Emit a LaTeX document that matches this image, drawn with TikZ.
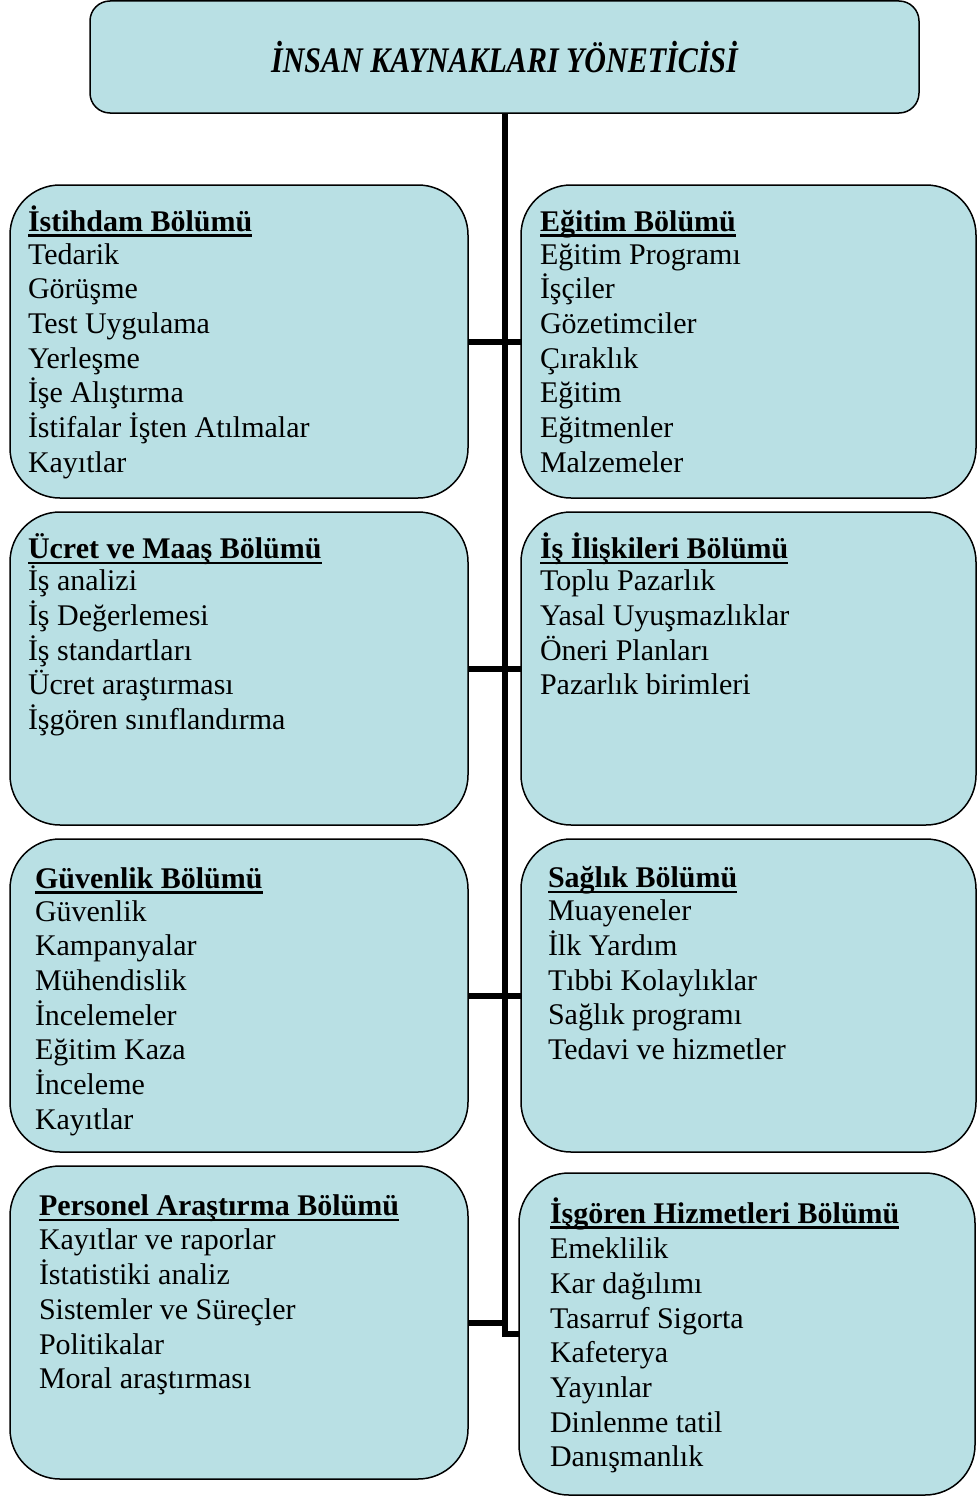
\documentclass[tikz,border=0pt]{standalone}
\usepackage{fontspec}
\usepackage{graphicx}
\setmainfont{Liberation Serif}
\definecolor{boxfill}{RGB}{185,224,228}
\newcommand\bolumbas[1]{\setbox0=\hbox{\bfseries #1}\rlap{\rule[-5.5pt]{\wd0}{2.2pt}}\box0}
\tikzset{
  dept/.style={draw=black, line width=1.5pt, fill=boxfill, rounded corners=50pt,
    anchor=north west, inner sep=0pt, outer sep=0pt},
  topbox/.style={draw=black, line width=1.5pt, fill=boxfill, rounded corners=20pt,
    anchor=north west, inner sep=0pt, outer sep=0pt},
  txt/.style={anchor=north west, inner sep=0pt, outer sep=0pt, align=left,
    font=\fontsize{30pt}{34.7pt}\selectfont},
  conn/.style={line width=6pt, draw=black}
}
\begin{document}
\begin{tikzpicture}[x=1pt, y=-1pt]
\useasboundingbox (0,0) rectangle (977,1496);
% boxes
\node[topbox, minimum width=829pt, minimum height=112pt] (top) at (90,1)
  {\raisebox{-4pt}{\scalebox{1}[1.2]{\fontsize{30pt}{34pt}\selectfont\bfseries\itshape İNSAN KAYNAKLARI YÖNETİCİSİ}}};
\node[dept, minimum width=458pt, minimum height=313pt] (L1) at (10,185) {};
\node[dept, minimum width=458pt, minimum height=313pt] (L2) at (10,512) {};
\node[dept, minimum width=458pt, minimum height=313pt] (L3) at (10,839) {};
\node[dept, minimum width=458pt, minimum height=313pt] (L4) at (10,1166) {};
\node[dept, minimum width=455pt, minimum height=313pt] (R1) at (521,185) {};
\node[dept, minimum width=455pt, minimum height=313pt] (R2) at (521,512) {};
\node[dept, minimum width=455pt, minimum height=313pt] (R3) at (521,839) {};
\node[dept, minimum width=456pt, minimum height=322pt] (R4) at (519,1173) {};
% connectors
\draw[conn] (top.south) |- (R4.west);
\draw[conn] (L1.east) -- (R1.west);
\draw[conn] (L2.east) -- (R2.west);
\draw[conn] (L3.east) -- (R3.west);
\draw[conn] (L4.east) -- (L4.east -| top.south);
% texts
\node[txt] (tL1) at (28,201) {\rule{0pt}{30pt}\bolumbas{İstihdam Bölümü}\\[-1.7pt]
Tedarik\\ Görüşme\\ Test Uygulama\\ Yerleşme\\ İşe Alıştırma\\ İstifalar İşten Atılmalar\\ Kayıtlar};
\node[txt] (tR1) at (540,201) {\rule{0pt}{30pt}\bolumbas{Eğitim Bölümü}\\[-1.7pt]
Eğitim Programı\\ İşçiler\\ Gözetimciler\\ Çıraklık\\ Eğitim\\ Eğitmenler\\ Malzemeler};
\node[txt] (tL2) at (28,528.5) {\rule{0pt}{30pt}\bolumbas{Ücret ve Maaş Bölümü}\\[-2.5pt]
İş analizi\\ İş Değerlemesi\\ İş standartları\\ Ücret araştırması\\ İşgören sınıflandırma};
\node[txt] (tR2) at (540,528.5) {\rule{0pt}{30pt}\bolumbas{İş İlişkileri Bölümü}\\[-2.5pt]
Toplu Pazarlık\\ Yasal Uyuşmazlıklar\\ Öneri Planları\\ Pazarlık birimleri};
\node[txt] (tL3) at (35,858) {\rule{0pt}{30pt}\bolumbas{Güvenlik Bölümü}\\[-1.7pt]
Güvenlik\\ Kampanyalar\\ Mühendislik\\ İncelemeler\\ Eğitim Kaza\\ İnceleme\\ Kayıtlar};
\node[txt] (tR3) at (548,857.5) {\rule{0pt}{30pt}\bolumbas{Sağlık Bölümü}\\[-1.5pt]
Muayeneler\\ İlk Yardım\\ Tıbbi Kolaylıklar\\ Sağlık programı\\ Tedavi ve hizmetler};
\node[txt] (tL4) at (39,1185.5) {\rule{0pt}{30pt}\bolumbas{Personel Araştırma Bölümü}\\[-0.3pt]
Kayıtlar ve raporlar\\ İstatistiki analiz\\ Sistemler ve Süreçler\\ Politikalar\\ Moral araştırması};
\node[txt] (tR4) at (550,1193) {\rule{0pt}{30pt}\bolumbas{İşgören Hizmetleri Bölümü}\\[1pt]
Emeklilik\\ Kar dağılımı\\ Tasarruf Sigorta\\ Kafeterya\\ Yayınlar\\ Dinlenme tatil\\ Danışmanlık};
\end{tikzpicture}
\end{document}
